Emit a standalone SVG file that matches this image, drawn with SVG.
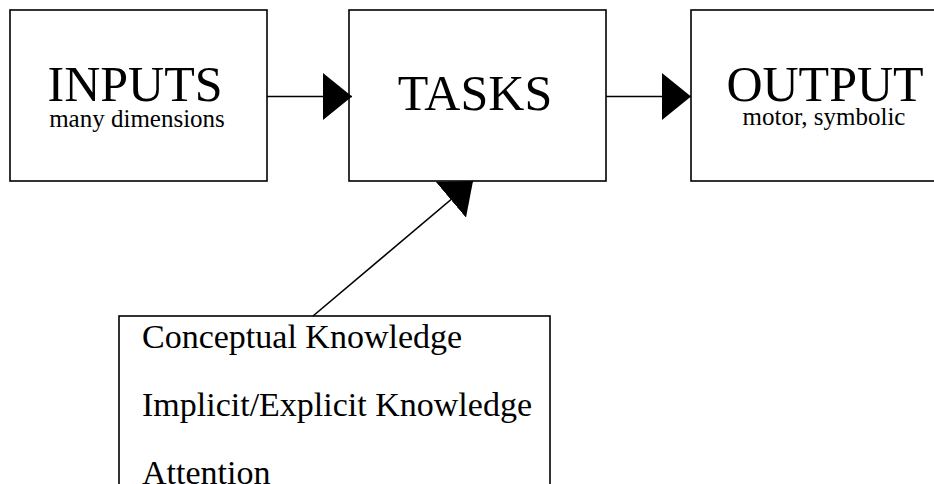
<svg xmlns="http://www.w3.org/2000/svg" width="934" height="484" viewBox="0 0 934 484">
  <style>
    .box { fill: #ffffff; stroke: #000000; stroke-width: 1.6; }
    .conn { fill: none; stroke: #000000; stroke-width: 1.6; }
    .title { font-family: "Liberation Serif", "Times New Roman", serif; font-size: 50px; fill: #000; text-anchor: middle; }
    .sub { font-family: "Liberation Serif", "Times New Roman", serif; font-size: 25px; fill: #000; text-anchor: middle; }
    .item { font-family: "Liberation Serif", "Times New Roman", serif; font-size: 34px; fill: #000; }
  </style>
  <defs>
    <marker id="arrow" viewBox="0 0 29 47" refX="29" refY="23.5" markerWidth="29" markerHeight="47" markerUnits="userSpaceOnUse" orient="auto">
      <path d="M0,0 L29,23.5 L0,47 Z" fill="#000000"/>
    </marker>
  </defs>
  <rect x="0" y="0" width="934" height="484" fill="#ffffff"/>

  <g id="inputs">
    <rect class="box" x="10" y="10" width="257" height="171"/>
    <text class="title" x="135" y="101">INPUTS</text>
    <text class="sub" x="137" y="127">many dimensions</text>
  </g>

  <g id="tasks">
    <rect class="box" x="349" y="10" width="257" height="171"/>
    <text class="title" x="475" y="110">TASKS</text>
  </g>

  <g id="output">
    <rect class="box" x="691" y="10" width="257" height="171"/>
    <text class="title" x="825" y="101">OUTPUT</text>
    <text class="sub" x="824" y="125">motor, symbolic</text>
  </g>

  <g id="knowledge">
    <rect class="box" x="119" y="316" width="431" height="200"/>
    <text class="item" x="142" y="348">Conceptual Knowledge</text>
    <text class="item" x="142" y="416">Implicit/Explicit Knowledge</text>
    <text class="item" x="142" y="484">Attention</text>
  </g>

  <g id="connectors">
    <line class="conn" x1="267" y1="96.5" x2="352" y2="96.5" marker-end="url(#arrow)"/>
    <line class="conn" x1="606" y1="96.5" x2="691" y2="96.5" marker-end="url(#arrow)"/>
    <line class="conn" x1="313" y1="316" x2="473" y2="181" marker-end="url(#arrow)"/>
  </g>
</svg>
